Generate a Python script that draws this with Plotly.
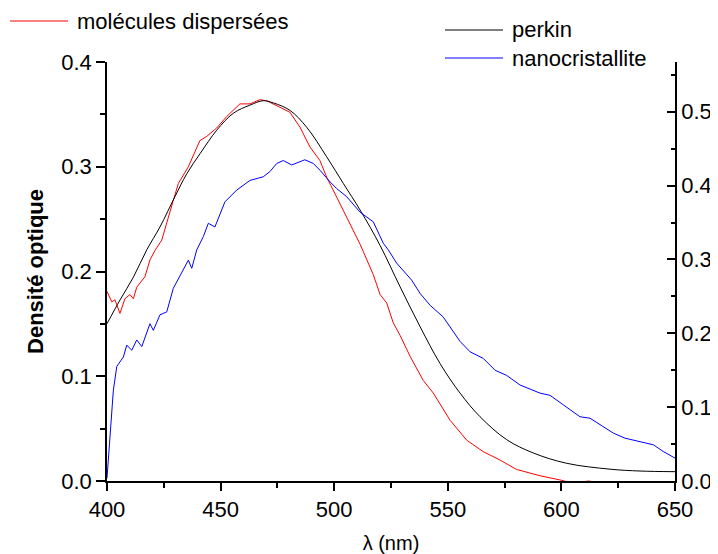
import plotly.graph_objects as go

# ---- data ----
wl_red = [400, 402.1, 403.5, 405.7, 407.9, 410.1, 411.6, 413.1, 416.7, 418.9, 421.1, 424.1, 429.2, 431.4,
          435.8, 440.9, 443.9, 448.3, 452.7, 458.5, 462.9, 467.3, 470.3, 476.1, 480.5, 484.9, 489.3, 493.7,
          496.7, 501.1, 505.5, 511.4, 517.2, 520.2, 523.1, 526.0, 529.0, 533.4, 539.2, 543.6, 551.0, 558.3,
          565.6, 573.0, 580.3, 590.6, 599.4, 605, 612, 620, 628, 635, 642, 650]
red = [0.181, 0.171, 0.173, 0.160, 0.174, 0.178, 0.174, 0.185, 0.195, 0.211, 0.220, 0.230, 0.268, 0.284,
       0.300, 0.325, 0.329, 0.337, 0.348, 0.360, 0.360, 0.364, 0.363, 0.357, 0.352, 0.338, 0.319, 0.306,
       0.290, 0.271, 0.252, 0.226, 0.197, 0.178, 0.170, 0.151, 0.139, 0.119, 0.096, 0.084, 0.058, 0.039,
       0.028, 0.020, 0.011, 0.005, 0.001, -0.002, 0.000, -0.003, -0.001, -0.002, -0.001, -0.002]

wl_black = [400, 405.7, 411.6, 417.5, 423.3, 429.9, 435.1, 440.9, 448.3, 455.6, 462.9, 468.8, 473.2, 480.5,
            487.9, 496.7, 504.0, 511.4, 520.2, 529.0, 537.8, 546.6, 555.4, 564.2, 575.9, 587.6, 602.3, 621.4,
            634.6, 650]
black = [0.213, 0.245, 0.276, 0.313, 0.344, 0.385, 0.416, 0.443, 0.475, 0.498, 0.509, 0.515, 0.512, 0.502,
         0.479, 0.439, 0.403, 0.367, 0.319, 0.263, 0.209, 0.159, 0.119, 0.087, 0.056, 0.038, 0.024, 0.016,
         0.0135, 0.0126]

wl_blue = [400, 400.6, 401.8, 402.8, 404.3, 407.2, 408.7, 410.9, 413.1, 415.3, 418.9, 420.4, 423.3, 426.3,
           429.2, 432.9, 435.8, 437.3, 439.5, 442.4, 444.6, 447.5, 451.9, 457.1, 462.9, 468.8, 471.7, 474.7,
           477.6, 481.3, 487.1, 490.8, 493.7, 498.2, 501.1, 505.5, 511.4, 517.2, 521.6, 523.8, 527.5, 534.1,
           537.8, 542.2, 548.0, 555.4, 559.8, 565.6, 570.8, 575.9, 581.8, 590.6, 595.0, 600.9, 608.2, 612.6,
           617.0, 622.8, 628.0, 634.6, 640.5, 644.8, 650]
blue = [0.004, 0.031, 0.083, 0.123, 0.155, 0.168, 0.184, 0.177, 0.191, 0.182, 0.213, 0.204, 0.225, 0.229,
        0.261, 0.283, 0.299, 0.288, 0.313, 0.331, 0.349, 0.344, 0.378, 0.394, 0.407, 0.412, 0.419, 0.430,
        0.434, 0.428, 0.435, 0.430, 0.421, 0.405, 0.396, 0.385, 0.364, 0.351, 0.322, 0.313, 0.295, 0.272,
        0.254, 0.238, 0.222, 0.189, 0.175, 0.166, 0.150, 0.143, 0.130, 0.119, 0.116, 0.103, 0.087, 0.085,
        0.076, 0.065, 0.058, 0.053, 0.049, 0.040, 0.031]

x_ticks = [400, 450, 500, 550, 600, 650]
y_ticks = [0.0, 0.1, 0.2, 0.3, 0.4]
y2_ticks = [0.0, 0.1, 0.2, 0.3, 0.4, 0.5]

FONT = "Arial, Liberation Sans, sans-serif"

fig = go.Figure()
fig.add_trace(go.Scatter(x=wl_red, y=red, mode="lines", line=dict(color="#ff0000", width=1),
                         name="molécules dispersées", yaxis="y"))
fig.add_trace(go.Scatter(x=wl_black, y=black, mode="lines", line=dict(color="#000000", width=1, shape="spline"),
                         name="perkin", yaxis="y2"))
fig.add_trace(go.Scatter(x=wl_blue, y=blue, mode="lines", line=dict(color="#0000ff", width=1),
                         name="nanocristallite", yaxis="y2"))

# page body adds an 8px margin: figure is 710x546 placed at (8, 8)
fig.update_layout(
    width=710, height=546,
    margin=dict(l=99, r=43, t=54, b=73, autoexpand=False),
    paper_bgcolor="white", plot_bgcolor="white",
    showlegend=False,
    font=dict(family=FONT, size=22, color="black"),
    xaxis=dict(range=[400, 650], tickvals=x_ticks, showline=True, linewidth=1.5, linecolor="black",
               ticks="outside", ticklen=8, tickwidth=1.5, tickcolor="black", showgrid=False, zeroline=False,
               minor=dict(dtick=25, ticks="outside", ticklen=5, tickwidth=1.5, tickcolor="black"),
               tickfont=dict(size=22), automargin=False,
               title=dict(text="λ (nm)", font=dict(size=20), standoff=18)),
    yaxis=dict(range=[0, 0.4], tickvals=y_ticks, tickformat=".1f", showline=True, linewidth=1.5, linecolor="black",
               ticks="outside", ticklen=9, tickwidth=1.5, tickcolor="black", showgrid=False, zeroline=False,
               minor=dict(dtick=0.05, ticks="outside", ticklen=5, tickwidth=1.5, tickcolor="black"),
               tickfont=dict(size=22), automargin=False,
               title=dict(text="<b>Densité optique</b>", font=dict(size=22), standoff=12)),
    yaxis2=dict(range=[0, 0.5674], tickvals=y2_ticks, tickformat=".1f", overlaying="y", side="right",
                showline=True, linewidth=1.5, linecolor="black",
                ticks="inside", ticklen=8, tickwidth=1.5, tickcolor="black", showgrid=False, zeroline=False,
                minor=dict(dtick=0.05, ticks="inside", ticklen=4, tickwidth=1.5, tickcolor="black"),
                tickfont=dict(size=22), ticklabelstandoff=0, automargin=False),
)

def px2x(px):
    return (px - 107) / 568.0

def py2y(py):
    return (481 - py) / 419.0

legend_items = [
    ("molécules dispersées", "#ff0000", 10, 68, 75, 21),
    ("perkin", "#000000", 445, 503, 510, 30),
    ("nanocristallite", "#0000ff", 445, 503, 510, 58),
]
for text, color, x0, x1, xt, yy in legend_items:
    fig.add_shape(type="line", xref="paper", yref="paper", x0=px2x(x0), x1=px2x(x1), y0=py2y(yy), y1=py2y(yy),
                  line=dict(color=color, width=1))
    fig.add_annotation(xref="paper", yref="paper", x=px2x(xt), y=py2y(yy), text=text, showarrow=False,
                       xanchor="left", yanchor="middle", font=dict(size=22, color="black"))

fig.write_html("out.html")
